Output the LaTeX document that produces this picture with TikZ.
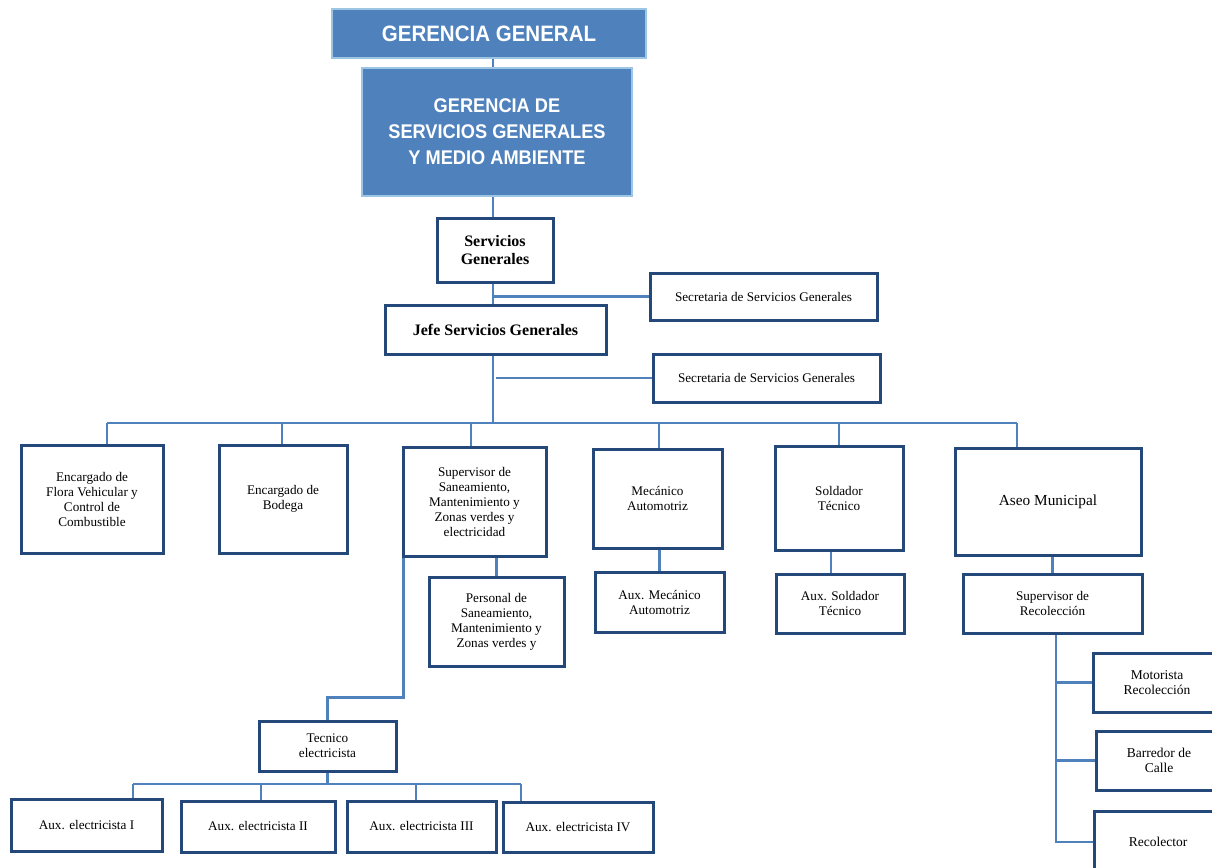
\documentclass[tikz,border=0pt]{standalone}
\usepackage{fontspec}
\setmainfont{Liberation Serif}
\newfontfamily\headfont[FakeStretch=0.92]{Liberation Sans}
\usetikzlibrary{positioning}
\definecolor{boxline}{HTML}{24487A}
\definecolor{linkblue}{HTML}{4F81BD}
\definecolor{headfill}{HTML}{4F81BD}
\definecolor{headline}{HTML}{9CC6E4}

\begin{document}
\begin{tikzpicture}[x=1pt, y=-1pt,
  dims/.style 2 args={minimum width=#1pt, minimum height=#2pt},
  head/.style={fill=headfill, draw=headline, line width=2.8pt, text=white, align=center, inner sep=0pt},
  unit/.style={draw=boxline, line width=3pt, align=center, inner sep=0pt, font=\fontsize{13.2}{15}\selectfont},
  chief/.style={unit, font=\bfseries\fontsize{16}{17.7}\selectfont},
  link/.style={draw=linkblue, line width=2.2pt}]
\useasboundingbox (0,0) rectangle (1212,867);
\clip (0,0) rectangle (1212,867);

\node[head, dims={314}{49}, font=\headfont\bfseries\fontsize{22.3}{26}\selectfont] (gg) at (489,33.5) {GERENCIA GENERAL};
\node[head, dims={270}{128}, font=\headfont\bfseries\fontsize{19.8}{26}\selectfont] (gsg) at (497,132) {GERENCIA DE\\SERVICIOS GENERALES\\Y MEDIO AMBIENTE};
\node[chief, dims={116}{64}] (sg) at (495,250) {Servicios\\Generales};
\node[unit, dims={227}{47}] (sec1) at (763.5,296.5) {Secretaria de Servicios Generales};
\node[chief, dims={221}{49}] (jefe) at (495.5,329.5) {Jefe Servicios Generales};
\node[unit, dims={227}{48}] (sec2) at (766.5,378) {Secretaria de Servicios Generales};

\node[unit, dims={142}{108}] (flota) at (92,499) {Encargado de\\Flora Vehicular y\\Control de\\Combustible};
\node[unit, dims={128}{108}] (bodega) at (283,499) {Encargado de\\Bodega};
\node[unit, dims={143}{109}] (super) at (474.5,501.5) {Supervisor de\\Saneamiento,\\Mantenimiento y\\Zonas verdes y\\electricidad};
\node[unit, dims={129}{99}] (mecanico) at (657.5,498.5) {Mecánico\\Automotriz};
\node[unit, dims={128}{104}] (soldador) at (839,498) {Soldador\\Técnico};
\node[unit, dims={186}{107}, font=\fontsize{15.3}{18}\selectfont] (aseo) at (1048,501.5) {Aseo Municipal};

\node[unit, dims={135}{89}] (personal) at (496.5,621.5) {Personal de\\Saneamiento,\\Mantenimiento y\\Zonas verdes y};
\node[unit, dims={129}{60}] (auxmec) at (659.5,602) {Aux. Mecánico\\Automotriz};
\node[unit, dims={128}{59}] (auxsold) at (840,603.5) {Aux. Soldador\\Técnico};
\node[unit, dims={179}{59}] (suprec) at (1052.5,603.5) {Supervisor de\\Recolección};
\node[unit, dims={128}{59}, font=\fontsize{13.5}{15}\selectfont] (motorista) at (1157,682.5) {Motorista\\Recolección};
\node[unit, dims={126}{59}, font=\fontsize{13.5}{15}\selectfont] (barredor) at (1159,760.5) {Barredor de\\Calle};
\node[unit, dims={128}{62}, font=\fontsize{13.5}{15}\selectfont] (recolector) at (1158,842) {Recolector};

\node[unit, dims={137}{50}] (tecnico) at (327.5,746) {Tecnico\\electricista};
\node[unit, dims={151}{52}] (aux1) at (86.5,825) {Aux. electricista I};
\node[unit, dims={154}{51}] (aux2) at (258,826.5) {Aux. electricista II};
\node[unit, dims={149}{51}] (aux3) at (421.5,826.5) {Aux. electricista III};
\node[unit, dims={150}{50}] (aux4) at (578,827) {Aux. electricista IV};

\coordinate (spine) at (493,0);
\coordinate (sp2) at ([xshift=3]spine);
\coordinate (d1) at (107,423);
\coordinate (d2) at (282,423);
\coordinate (d3) at (471,423);
\coordinate (d4) at (659,423);
\coordinate (d5) at (839,423);
\coordinate (d6) at (1017,423);
\coordinate (e1) at (133,784);
\coordinate (e2) at (261,784);
\coordinate (e3) at (416,784);
\coordinate (e4) at (521,784);
\coordinate (s5) at ([xshift=-9]auxsold.north);
\coordinate (rec) at ([xshift=3.5]suprec.south);
\coordinate (el) at ([xshift=2]super.south west);

\draw[link] (gg.south -| spine) -- (gsg.north -| spine);
\draw[link] (gsg.south -| spine) -- (sg.north -| spine);
\draw[link] (sg.south -| spine) -- (jefe.north -| spine);
\draw[link] (sec1.west) -- (sec1.west -| spine);
\draw[link] (jefe.south -| spine) -- (spine |- d1);
\draw[link] (sec2.west) -- (sec2.west -| sp2);
\draw[link] (d1) -- (d6);
\foreach \d/\b in {d1/flota, d2/bodega, d3/super, d4/mecanico, d5/soldador, d6/aseo}
  \draw[link] (\d) -- (\d |- \b.north);

\draw[link] (personal.north) -- (personal.north |- super.south);
\draw[link] (auxmec.north) -- (auxmec.north |- mecanico.south);
\draw[link] (s5) -- (s5 |- soldador.south);
\draw[link] (suprec.north) -- (suprec.north |- aseo.south);
\draw[link] (rec) |- (recolector.west);
\draw[link] (motorista.west) -- (motorista.west -| rec);
\draw[link] (barredor.west) -- (barredor.west -| rec);

\draw[link] (el) |- ([yshift=22]tecnico.north) -- (tecnico.north);
\draw[link] (tecnico.south) -- (tecnico.south |- e1);
\draw[link] (e1) -- (e4);
\foreach \e/\a in {e1/aux1, e2/aux2, e3/aux3, e4/aux4}
  \draw[link] (\e) -- (\e |- \a.north);
\end{tikzpicture}
\end{document}
